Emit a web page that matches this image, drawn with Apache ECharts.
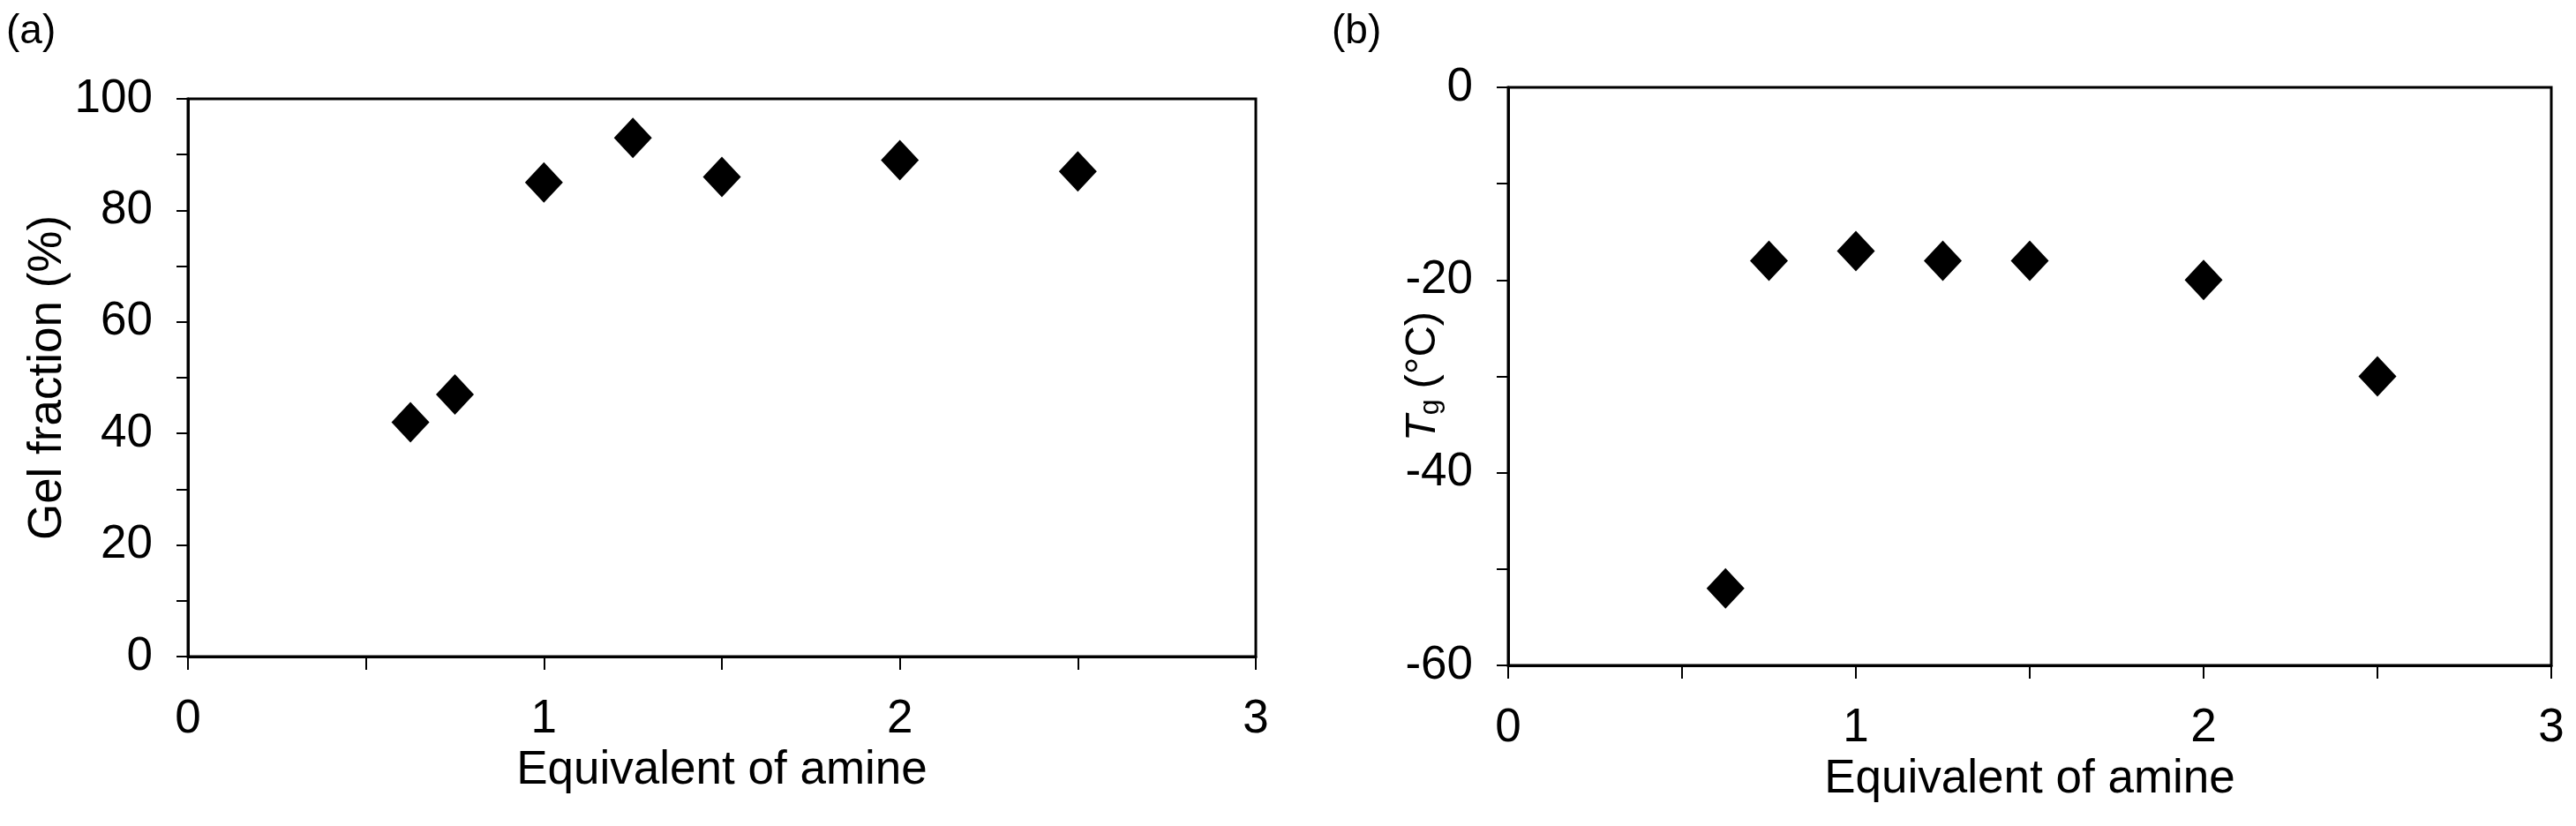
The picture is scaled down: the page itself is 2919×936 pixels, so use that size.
<!DOCTYPE html>
<html>
<head>
<meta charset="utf-8">
<script src="https://cdn.jsdelivr.net/npm/echarts@6/dist/echarts.min.js"></script>
<style>
  html, body { margin: 0; padding: 0; background: #fff; }
  #chart { width: 2919px; height: 936px; }
</style>
</head>
<body>
<div id="chart"></div>
<script>
// equivalents of amine
var amineEq = [0.625, 0.75, 1, 1.25, 1.5, 2, 2.5];
// (a) gel fraction, %
var gelFraction = [42, 47, 85, 93, 86, 89, 87];
// (b) glass transition temperature, °C
var tgValues = [-52, -18, -17, -18, -18, -20, -30];

var xTicks = [0, 1, 2, 3];

function pairs(xs, ys) {
  var out = [];
  xs.forEach(function (x, i) {
    out.push([x, ys[i]]);
  });
  return out;
}

var font = "Liberation Sans";
var black = "#000";
var labelSize = 53;

function xAxisFor(gridIndex) {
  return {
    gridIndex: gridIndex,
    type: "value",
    min: 0,
    max: 3,
    interval: 0.5,
    name: "Equivalent of amine",
    nameLocation: "middle",
    nameGap: 90,
    nameTextStyle: { fontFamily: font, fontSize: labelSize, color: black },
    axisLine: { show: true, onZero: false, lineStyle: { color: black, width: 3 } },
    axisTick: { show: true, inside: false, length: 15, lineStyle: { color: black, width: 2 } },
    axisLabel: {
      margin: 45,
      fontFamily: font,
      fontSize: labelSize,
      color: black,
      formatter: function (v) {
        return xTicks.indexOf(v) >= 0 ? String(v) : "";
      },
    },
    splitLine: { show: false },
  };
}

// only every second tick gets a label on the y axes
function everyTwenty(v) {
  return v % 20 === 0 ? String(v) : "";
}

var option = {
  animation: false,
  backgroundColor: "#fff",
  title: [
    { text: "(a)", left: 2, top: 8, textStyle: { fontFamily: font, fontSize: 46, fontWeight: "normal", color: black } },
    { text: "(b)", left: 1504, top: 8, textStyle: { fontFamily: font, fontSize: 46, fontWeight: "normal", color: black } },
  ],
  grid: [
    { left: 213, top: 112, width: 1210, height: 632, show: true, borderColor: black, borderWidth: 3, backgroundColor: "transparent" },
    { left: 1709, top: 99, width: 1182, height: 655, show: true, borderColor: black, borderWidth: 3, backgroundColor: "transparent" },
  ],
  xAxis: [xAxisFor(0), xAxisFor(1)],
  yAxis: [
    {
      gridIndex: 0,
      type: "value",
      min: 0,
      max: 100,
      interval: 10,
      name: "Gel fraction (%)",
      nameLocation: "middle",
      nameGap: 128,
      nameTextStyle: { fontFamily: font, fontSize: labelSize, color: black },
      axisLine: { show: true, onZero: false, lineStyle: { color: black, width: 3 } },
      axisTick: { show: true, inside: false, length: 13, lineStyle: { color: black, width: 2 } },
      axisLabel: { margin: 40, fontFamily: font, fontSize: labelSize, color: black, formatter: everyTwenty },
      splitLine: { show: false },
    },
    {
      gridIndex: 1,
      type: "value",
      min: -60,
      max: 0,
      interval: 10,
      name: "{it|T}{sub|g}(°C)",
      nameLocation: "middle",
      nameGap: 72,
      nameMoveOverlap: false,
      nameTextStyle: {
        fontFamily: font,
        fontSize: 49,
        color: black,
        rich: {
          it: { fontFamily: font, fontSize: 49, fontStyle: "italic", color: black },
          sub: { fontFamily: font, fontSize: 32, color: black, verticalAlign: "bottom", padding: [14, 12, 0, 0] },
        },
      },
      axisLine: { show: true, onZero: false, lineStyle: { color: black, width: 3 } },
      axisTick: { show: true, inside: false, length: 13, lineStyle: { color: black, width: 2 } },
      axisLabel: { margin: 40, fontFamily: font, fontSize: labelSize, color: black, formatter: everyTwenty },
      splitLine: { show: false },
    },
  ],
  series: [
    {
      name: "Gel fraction",
      type: "scatter",
      xAxisIndex: 0,
      yAxisIndex: 0,
      symbol: "diamond",
      symbolSize: [43, 46],
      itemStyle: { color: black, opacity: 1 },
      data: pairs(amineEq, gelFraction),
    },
    {
      name: "Tg",
      type: "scatter",
      xAxisIndex: 1,
      yAxisIndex: 1,
      symbol: "diamond",
      symbolSize: [43, 46],
      itemStyle: { color: black, opacity: 1 },
      data: pairs(amineEq, tgValues),
    },
  ],
};

var myChart = echarts.init(document.getElementById("chart"), null, { renderer: "canvas" });
myChart.setOption(option);
</script>
</body>
</html>
